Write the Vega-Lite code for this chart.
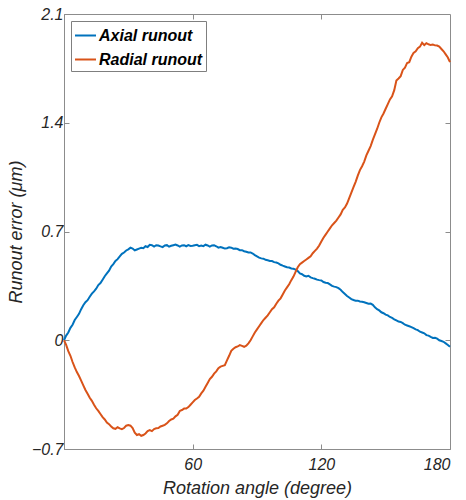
{
  "$schema": "https://vega.github.io/schema/vega-lite/v6.json",
  "width": 386,
  "height": 435,
  "autosize": "none",
  "padding": {"left": 64, "top": 14, "right": 16, "bottom": 51},
  "config": {
    "view": {"stroke": "#8c8c8c", "strokeWidth": 1},
    "font": "Liberation Sans",
    "axis": {
      "labelFont": "Liberation Sans",
      "titleFont": "Liberation Sans",
      "labelFontStyle": "italic",
      "titleFontStyle": "italic",
      "labelFontWeight": "normal",
      "titleFontWeight": "normal",
      "labelColor": "#262626",
      "titleColor": "#262626",
      "labelFontSize": 16,
      "titleFontSize": 18,
      "domainColor": "#8c8c8c",
      "tickColor": "#8c8c8c",
      "tickSize": -5,
      "grid": false
    }
  },
  "data": {
    "values": [
      {"angle": 0, "value": 0.0, "series": "Axial runout"},
      {"angle": 1, "value": 0.03, "series": "Axial runout"},
      {"angle": 2, "value": 0.05, "series": "Axial runout"},
      {"angle": 3, "value": 0.08, "series": "Axial runout"},
      {"angle": 4, "value": 0.1, "series": "Axial runout"},
      {"angle": 5, "value": 0.13, "series": "Axial runout"},
      {"angle": 6, "value": 0.15, "series": "Axial runout"},
      {"angle": 7, "value": 0.17, "series": "Axial runout"},
      {"angle": 8, "value": 0.2, "series": "Axial runout"},
      {"angle": 9, "value": 0.225, "series": "Axial runout"},
      {"angle": 10, "value": 0.245, "series": "Axial runout"},
      {"angle": 11, "value": 0.258, "series": "Axial runout"},
      {"angle": 12, "value": 0.28, "series": "Axial runout"},
      {"angle": 13, "value": 0.3, "series": "Axial runout"},
      {"angle": 14, "value": 0.315, "series": "Axial runout"},
      {"angle": 15, "value": 0.332, "series": "Axial runout"},
      {"angle": 16, "value": 0.355, "series": "Axial runout"},
      {"angle": 17, "value": 0.368, "series": "Axial runout"},
      {"angle": 18, "value": 0.39, "series": "Axial runout"},
      {"angle": 19, "value": 0.412, "series": "Axial runout"},
      {"angle": 20, "value": 0.43, "series": "Axial runout"},
      {"angle": 21, "value": 0.448, "series": "Axial runout"},
      {"angle": 22, "value": 0.475, "series": "Axial runout"},
      {"angle": 23, "value": 0.49, "series": "Axial runout"},
      {"angle": 24, "value": 0.51, "series": "Axial runout"},
      {"angle": 25, "value": 0.522, "series": "Axial runout"},
      {"angle": 26, "value": 0.54, "series": "Axial runout"},
      {"angle": 27, "value": 0.556, "series": "Axial runout"},
      {"angle": 28, "value": 0.565, "series": "Axial runout"},
      {"angle": 29, "value": 0.578, "series": "Axial runout"},
      {"angle": 30, "value": 0.585, "series": "Axial runout"},
      {"angle": 31, "value": 0.596, "series": "Axial runout"},
      {"angle": 32, "value": 0.59, "series": "Axial runout"},
      {"angle": 33, "value": 0.578, "series": "Axial runout"},
      {"angle": 34, "value": 0.584, "series": "Axial runout"},
      {"angle": 35, "value": 0.59, "series": "Axial runout"},
      {"angle": 36, "value": 0.595, "series": "Axial runout"},
      {"angle": 37, "value": 0.592, "series": "Axial runout"},
      {"angle": 38, "value": 0.605, "series": "Axial runout"},
      {"angle": 39, "value": 0.6, "series": "Axial runout"},
      {"angle": 40, "value": 0.614, "series": "Axial runout"},
      {"angle": 41, "value": 0.612, "series": "Axial runout"},
      {"angle": 42, "value": 0.603, "series": "Axial runout"},
      {"angle": 43, "value": 0.612, "series": "Axial runout"},
      {"angle": 44, "value": 0.61, "series": "Axial runout"},
      {"angle": 45, "value": 0.604, "series": "Axial runout"},
      {"angle": 46, "value": 0.6, "series": "Axial runout"},
      {"angle": 47, "value": 0.61, "series": "Axial runout"},
      {"angle": 48, "value": 0.612, "series": "Axial runout"},
      {"angle": 49, "value": 0.602, "series": "Axial runout"},
      {"angle": 50, "value": 0.608, "series": "Axial runout"},
      {"angle": 51, "value": 0.612, "series": "Axial runout"},
      {"angle": 52, "value": 0.616, "series": "Axial runout"},
      {"angle": 53, "value": 0.61, "series": "Axial runout"},
      {"angle": 54, "value": 0.603, "series": "Axial runout"},
      {"angle": 55, "value": 0.61, "series": "Axial runout"},
      {"angle": 56, "value": 0.612, "series": "Axial runout"},
      {"angle": 57, "value": 0.605, "series": "Axial runout"},
      {"angle": 58, "value": 0.612, "series": "Axial runout"},
      {"angle": 59, "value": 0.607, "series": "Axial runout"},
      {"angle": 60, "value": 0.608, "series": "Axial runout"},
      {"angle": 61, "value": 0.612, "series": "Axial runout"},
      {"angle": 62, "value": 0.614, "series": "Axial runout"},
      {"angle": 63, "value": 0.606, "series": "Axial runout"},
      {"angle": 64, "value": 0.61, "series": "Axial runout"},
      {"angle": 65, "value": 0.606, "series": "Axial runout"},
      {"angle": 66, "value": 0.615, "series": "Axial runout"},
      {"angle": 67, "value": 0.61, "series": "Axial runout"},
      {"angle": 68, "value": 0.603, "series": "Axial runout"},
      {"angle": 69, "value": 0.61, "series": "Axial runout"},
      {"angle": 70, "value": 0.612, "series": "Axial runout"},
      {"angle": 71, "value": 0.605, "series": "Axial runout"},
      {"angle": 72, "value": 0.596, "series": "Axial runout"},
      {"angle": 73, "value": 0.6, "series": "Axial runout"},
      {"angle": 74, "value": 0.595, "series": "Axial runout"},
      {"angle": 75, "value": 0.59, "series": "Axial runout"},
      {"angle": 76, "value": 0.592, "series": "Axial runout"},
      {"angle": 77, "value": 0.598, "series": "Axial runout"},
      {"angle": 78, "value": 0.596, "series": "Axial runout"},
      {"angle": 79, "value": 0.589, "series": "Axial runout"},
      {"angle": 80, "value": 0.59, "series": "Axial runout"},
      {"angle": 81, "value": 0.587, "series": "Axial runout"},
      {"angle": 82, "value": 0.58, "series": "Axial runout"},
      {"angle": 83, "value": 0.58, "series": "Axial runout"},
      {"angle": 84, "value": 0.573, "series": "Axial runout"},
      {"angle": 85, "value": 0.57, "series": "Axial runout"},
      {"angle": 86, "value": 0.565, "series": "Axial runout"},
      {"angle": 87, "value": 0.565, "series": "Axial runout"},
      {"angle": 88, "value": 0.558, "series": "Axial runout"},
      {"angle": 89, "value": 0.548, "series": "Axial runout"},
      {"angle": 90, "value": 0.54, "series": "Axial runout"},
      {"angle": 91, "value": 0.532, "series": "Axial runout"},
      {"angle": 92, "value": 0.527, "series": "Axial runout"},
      {"angle": 93, "value": 0.525, "series": "Axial runout"},
      {"angle": 94, "value": 0.518, "series": "Axial runout"},
      {"angle": 95, "value": 0.515, "series": "Axial runout"},
      {"angle": 96, "value": 0.51, "series": "Axial runout"},
      {"angle": 97, "value": 0.51, "series": "Axial runout"},
      {"angle": 98, "value": 0.503, "series": "Axial runout"},
      {"angle": 99, "value": 0.5, "series": "Axial runout"},
      {"angle": 100, "value": 0.495, "series": "Axial runout"},
      {"angle": 101, "value": 0.486, "series": "Axial runout"},
      {"angle": 102, "value": 0.48, "series": "Axial runout"},
      {"angle": 103, "value": 0.475, "series": "Axial runout"},
      {"angle": 104, "value": 0.47, "series": "Axial runout"},
      {"angle": 105, "value": 0.468, "series": "Axial runout"},
      {"angle": 106, "value": 0.462, "series": "Axial runout"},
      {"angle": 107, "value": 0.46, "series": "Axial runout"},
      {"angle": 108, "value": 0.455, "series": "Axial runout"},
      {"angle": 109, "value": 0.445, "series": "Axial runout"},
      {"angle": 110, "value": 0.43, "series": "Axial runout"},
      {"angle": 111, "value": 0.425, "series": "Axial runout"},
      {"angle": 112, "value": 0.415, "series": "Axial runout"},
      {"angle": 113, "value": 0.41, "series": "Axial runout"},
      {"angle": 114, "value": 0.415, "series": "Axial runout"},
      {"angle": 115, "value": 0.405, "series": "Axial runout"},
      {"angle": 116, "value": 0.4, "series": "Axial runout"},
      {"angle": 117, "value": 0.396, "series": "Axial runout"},
      {"angle": 118, "value": 0.39, "series": "Axial runout"},
      {"angle": 119, "value": 0.387, "series": "Axial runout"},
      {"angle": 120, "value": 0.385, "series": "Axial runout"},
      {"angle": 121, "value": 0.375, "series": "Axial runout"},
      {"angle": 122, "value": 0.37, "series": "Axial runout"},
      {"angle": 123, "value": 0.368, "series": "Axial runout"},
      {"angle": 124, "value": 0.36, "series": "Axial runout"},
      {"angle": 125, "value": 0.35, "series": "Axial runout"},
      {"angle": 126, "value": 0.345, "series": "Axial runout"},
      {"angle": 127, "value": 0.342, "series": "Axial runout"},
      {"angle": 128, "value": 0.335, "series": "Axial runout"},
      {"angle": 129, "value": 0.325, "series": "Axial runout"},
      {"angle": 130, "value": 0.31, "series": "Axial runout"},
      {"angle": 131, "value": 0.298, "series": "Axial runout"},
      {"angle": 132, "value": 0.285, "series": "Axial runout"},
      {"angle": 133, "value": 0.275, "series": "Axial runout"},
      {"angle": 134, "value": 0.265, "series": "Axial runout"},
      {"angle": 135, "value": 0.259, "series": "Axial runout"},
      {"angle": 136, "value": 0.255, "series": "Axial runout"},
      {"angle": 137, "value": 0.255, "series": "Axial runout"},
      {"angle": 138, "value": 0.25, "series": "Axial runout"},
      {"angle": 139, "value": 0.248, "series": "Axial runout"},
      {"angle": 140, "value": 0.245, "series": "Axial runout"},
      {"angle": 141, "value": 0.24, "series": "Axial runout"},
      {"angle": 142, "value": 0.235, "series": "Axial runout"},
      {"angle": 143, "value": 0.236, "series": "Axial runout"},
      {"angle": 144, "value": 0.228, "series": "Axial runout"},
      {"angle": 145, "value": 0.212, "series": "Axial runout"},
      {"angle": 146, "value": 0.2, "series": "Axial runout"},
      {"angle": 147, "value": 0.192, "series": "Axial runout"},
      {"angle": 148, "value": 0.18, "series": "Axial runout"},
      {"angle": 149, "value": 0.174, "series": "Axial runout"},
      {"angle": 150, "value": 0.165, "series": "Axial runout"},
      {"angle": 151, "value": 0.16, "series": "Axial runout"},
      {"angle": 152, "value": 0.15, "series": "Axial runout"},
      {"angle": 153, "value": 0.144, "series": "Axial runout"},
      {"angle": 154, "value": 0.135, "series": "Axial runout"},
      {"angle": 155, "value": 0.128, "series": "Axial runout"},
      {"angle": 156, "value": 0.12, "series": "Axial runout"},
      {"angle": 157, "value": 0.118, "series": "Axial runout"},
      {"angle": 158, "value": 0.11, "series": "Axial runout"},
      {"angle": 159, "value": 0.1, "series": "Axial runout"},
      {"angle": 160, "value": 0.095, "series": "Axial runout"},
      {"angle": 161, "value": 0.09, "series": "Axial runout"},
      {"angle": 162, "value": 0.085, "series": "Axial runout"},
      {"angle": 163, "value": 0.078, "series": "Axial runout"},
      {"angle": 164, "value": 0.07, "series": "Axial runout"},
      {"angle": 165, "value": 0.065, "series": "Axial runout"},
      {"angle": 166, "value": 0.055, "series": "Axial runout"},
      {"angle": 167, "value": 0.05, "series": "Axial runout"},
      {"angle": 168, "value": 0.045, "series": "Axial runout"},
      {"angle": 169, "value": 0.033, "series": "Axial runout"},
      {"angle": 170, "value": 0.03, "series": "Axial runout"},
      {"angle": 171, "value": 0.022, "series": "Axial runout"},
      {"angle": 172, "value": 0.015, "series": "Axial runout"},
      {"angle": 173, "value": 0.016, "series": "Axial runout"},
      {"angle": 174, "value": 0.01, "series": "Axial runout"},
      {"angle": 175, "value": 0.0, "series": "Axial runout"},
      {"angle": 176, "value": -0.005, "series": "Axial runout"},
      {"angle": 177, "value": -0.01, "series": "Axial runout"},
      {"angle": 178, "value": -0.02, "series": "Axial runout"},
      {"angle": 179, "value": -0.03, "series": "Axial runout"},
      {"angle": 180, "value": -0.042, "series": "Axial runout"},
      {"angle": 0, "value": 0.0, "series": "Radial runout"},
      {"angle": 1, "value": -0.03, "series": "Radial runout"},
      {"angle": 2, "value": -0.07, "series": "Radial runout"},
      {"angle": 3, "value": -0.1, "series": "Radial runout"},
      {"angle": 4, "value": -0.14, "series": "Radial runout"},
      {"angle": 5, "value": -0.175, "series": "Radial runout"},
      {"angle": 6, "value": -0.205, "series": "Radial runout"},
      {"angle": 7, "value": -0.23, "series": "Radial runout"},
      {"angle": 8, "value": -0.26, "series": "Radial runout"},
      {"angle": 9, "value": -0.29, "series": "Radial runout"},
      {"angle": 10, "value": -0.32, "series": "Radial runout"},
      {"angle": 11, "value": -0.345, "series": "Radial runout"},
      {"angle": 12, "value": -0.37, "series": "Radial runout"},
      {"angle": 13, "value": -0.39, "series": "Radial runout"},
      {"angle": 14, "value": -0.415, "series": "Radial runout"},
      {"angle": 15, "value": -0.438, "series": "Radial runout"},
      {"angle": 16, "value": -0.455, "series": "Radial runout"},
      {"angle": 17, "value": -0.475, "series": "Radial runout"},
      {"angle": 18, "value": -0.495, "series": "Radial runout"},
      {"angle": 19, "value": -0.51, "series": "Radial runout"},
      {"angle": 20, "value": -0.53, "series": "Radial runout"},
      {"angle": 21, "value": -0.54, "series": "Radial runout"},
      {"angle": 22, "value": -0.555, "series": "Radial runout"},
      {"angle": 23, "value": -0.567, "series": "Radial runout"},
      {"angle": 24, "value": -0.57, "series": "Radial runout"},
      {"angle": 25, "value": -0.56, "series": "Radial runout"},
      {"angle": 26, "value": -0.567, "series": "Radial runout"},
      {"angle": 27, "value": -0.572, "series": "Radial runout"},
      {"angle": 28, "value": -0.565, "series": "Radial runout"},
      {"angle": 29, "value": -0.55, "series": "Radial runout"},
      {"angle": 30, "value": -0.546, "series": "Radial runout"},
      {"angle": 31, "value": -0.55, "series": "Radial runout"},
      {"angle": 32, "value": -0.565, "series": "Radial runout"},
      {"angle": 33, "value": -0.595, "series": "Radial runout"},
      {"angle": 34, "value": -0.61, "series": "Radial runout"},
      {"angle": 35, "value": -0.605, "series": "Radial runout"},
      {"angle": 36, "value": -0.615, "series": "Radial runout"},
      {"angle": 37, "value": -0.61, "series": "Radial runout"},
      {"angle": 38, "value": -0.6, "series": "Radial runout"},
      {"angle": 39, "value": -0.585, "series": "Radial runout"},
      {"angle": 40, "value": -0.578, "series": "Radial runout"},
      {"angle": 41, "value": -0.585, "series": "Radial runout"},
      {"angle": 42, "value": -0.572, "series": "Radial runout"},
      {"angle": 43, "value": -0.567, "series": "Radial runout"},
      {"angle": 44, "value": -0.565, "series": "Radial runout"},
      {"angle": 45, "value": -0.555, "series": "Radial runout"},
      {"angle": 46, "value": -0.55, "series": "Radial runout"},
      {"angle": 47, "value": -0.545, "series": "Radial runout"},
      {"angle": 48, "value": -0.535, "series": "Radial runout"},
      {"angle": 49, "value": -0.52, "series": "Radial runout"},
      {"angle": 50, "value": -0.51, "series": "Radial runout"},
      {"angle": 51, "value": -0.505, "series": "Radial runout"},
      {"angle": 52, "value": -0.49, "series": "Radial runout"},
      {"angle": 53, "value": -0.48, "series": "Radial runout"},
      {"angle": 54, "value": -0.455, "series": "Radial runout"},
      {"angle": 55, "value": -0.449, "series": "Radial runout"},
      {"angle": 56, "value": -0.44, "series": "Radial runout"},
      {"angle": 57, "value": -0.44, "series": "Radial runout"},
      {"angle": 58, "value": -0.43, "series": "Radial runout"},
      {"angle": 59, "value": -0.415, "series": "Radial runout"},
      {"angle": 60, "value": -0.4, "series": "Radial runout"},
      {"angle": 61, "value": -0.385, "series": "Radial runout"},
      {"angle": 62, "value": -0.375, "series": "Radial runout"},
      {"angle": 63, "value": -0.364, "series": "Radial runout"},
      {"angle": 64, "value": -0.342, "series": "Radial runout"},
      {"angle": 65, "value": -0.325, "series": "Radial runout"},
      {"angle": 66, "value": -0.3, "series": "Radial runout"},
      {"angle": 67, "value": -0.275, "series": "Radial runout"},
      {"angle": 68, "value": -0.25, "series": "Radial runout"},
      {"angle": 69, "value": -0.235, "series": "Radial runout"},
      {"angle": 70, "value": -0.215, "series": "Radial runout"},
      {"angle": 71, "value": -0.2, "series": "Radial runout"},
      {"angle": 72, "value": -0.18, "series": "Radial runout"},
      {"angle": 73, "value": -0.17, "series": "Radial runout"},
      {"angle": 74, "value": -0.165, "series": "Radial runout"},
      {"angle": 75, "value": -0.16, "series": "Radial runout"},
      {"angle": 76, "value": -0.13, "series": "Radial runout"},
      {"angle": 77, "value": -0.1, "series": "Radial runout"},
      {"angle": 78, "value": -0.068, "series": "Radial runout"},
      {"angle": 79, "value": -0.055, "series": "Radial runout"},
      {"angle": 80, "value": -0.045, "series": "Radial runout"},
      {"angle": 81, "value": -0.04, "series": "Radial runout"},
      {"angle": 82, "value": -0.031, "series": "Radial runout"},
      {"angle": 83, "value": -0.036, "series": "Radial runout"},
      {"angle": 84, "value": -0.042, "series": "Radial runout"},
      {"angle": 85, "value": -0.035, "series": "Radial runout"},
      {"angle": 86, "value": -0.02, "series": "Radial runout"},
      {"angle": 87, "value": 0.0, "series": "Radial runout"},
      {"angle": 88, "value": 0.025, "series": "Radial runout"},
      {"angle": 89, "value": 0.05, "series": "Radial runout"},
      {"angle": 90, "value": 0.07, "series": "Radial runout"},
      {"angle": 91, "value": 0.09, "series": "Radial runout"},
      {"angle": 92, "value": 0.11, "series": "Radial runout"},
      {"angle": 93, "value": 0.13, "series": "Radial runout"},
      {"angle": 94, "value": 0.145, "series": "Radial runout"},
      {"angle": 95, "value": 0.16, "series": "Radial runout"},
      {"angle": 96, "value": 0.18, "series": "Radial runout"},
      {"angle": 97, "value": 0.2, "series": "Radial runout"},
      {"angle": 98, "value": 0.212, "series": "Radial runout"},
      {"angle": 99, "value": 0.235, "series": "Radial runout"},
      {"angle": 100, "value": 0.255, "series": "Radial runout"},
      {"angle": 101, "value": 0.27, "series": "Radial runout"},
      {"angle": 102, "value": 0.295, "series": "Radial runout"},
      {"angle": 103, "value": 0.32, "series": "Radial runout"},
      {"angle": 104, "value": 0.34, "series": "Radial runout"},
      {"angle": 105, "value": 0.36, "series": "Radial runout"},
      {"angle": 106, "value": 0.387, "series": "Radial runout"},
      {"angle": 107, "value": 0.41, "series": "Radial runout"},
      {"angle": 108, "value": 0.44, "series": "Radial runout"},
      {"angle": 109, "value": 0.47, "series": "Radial runout"},
      {"angle": 110, "value": 0.49, "series": "Radial runout"},
      {"angle": 111, "value": 0.5, "series": "Radial runout"},
      {"angle": 112, "value": 0.51, "series": "Radial runout"},
      {"angle": 113, "value": 0.52, "series": "Radial runout"},
      {"angle": 114, "value": 0.53, "series": "Radial runout"},
      {"angle": 115, "value": 0.54, "series": "Radial runout"},
      {"angle": 116, "value": 0.56, "series": "Radial runout"},
      {"angle": 117, "value": 0.575, "series": "Radial runout"},
      {"angle": 118, "value": 0.59, "series": "Radial runout"},
      {"angle": 119, "value": 0.61, "series": "Radial runout"},
      {"angle": 120, "value": 0.635, "series": "Radial runout"},
      {"angle": 121, "value": 0.66, "series": "Radial runout"},
      {"angle": 122, "value": 0.68, "series": "Radial runout"},
      {"angle": 123, "value": 0.7, "series": "Radial runout"},
      {"angle": 124, "value": 0.72, "series": "Radial runout"},
      {"angle": 125, "value": 0.74, "series": "Radial runout"},
      {"angle": 126, "value": 0.755, "series": "Radial runout"},
      {"angle": 127, "value": 0.77, "series": "Radial runout"},
      {"angle": 128, "value": 0.79, "series": "Radial runout"},
      {"angle": 129, "value": 0.81, "series": "Radial runout"},
      {"angle": 130, "value": 0.84, "series": "Radial runout"},
      {"angle": 131, "value": 0.855, "series": "Radial runout"},
      {"angle": 132, "value": 0.88, "series": "Radial runout"},
      {"angle": 133, "value": 0.915, "series": "Radial runout"},
      {"angle": 134, "value": 0.95, "series": "Radial runout"},
      {"angle": 135, "value": 0.985, "series": "Radial runout"},
      {"angle": 136, "value": 1.02, "series": "Radial runout"},
      {"angle": 137, "value": 1.06, "series": "Radial runout"},
      {"angle": 138, "value": 1.095, "series": "Radial runout"},
      {"angle": 139, "value": 1.12, "series": "Radial runout"},
      {"angle": 140, "value": 1.15, "series": "Radial runout"},
      {"angle": 141, "value": 1.19, "series": "Radial runout"},
      {"angle": 142, "value": 1.22, "series": "Radial runout"},
      {"angle": 143, "value": 1.25, "series": "Radial runout"},
      {"angle": 144, "value": 1.29, "series": "Radial runout"},
      {"angle": 145, "value": 1.325, "series": "Radial runout"},
      {"angle": 146, "value": 1.36, "series": "Radial runout"},
      {"angle": 147, "value": 1.4, "series": "Radial runout"},
      {"angle": 148, "value": 1.435, "series": "Radial runout"},
      {"angle": 149, "value": 1.46, "series": "Radial runout"},
      {"angle": 150, "value": 1.49, "series": "Radial runout"},
      {"angle": 151, "value": 1.52, "series": "Radial runout"},
      {"angle": 152, "value": 1.55, "series": "Radial runout"},
      {"angle": 153, "value": 1.57, "series": "Radial runout"},
      {"angle": 154, "value": 1.61, "series": "Radial runout"},
      {"angle": 155, "value": 1.672, "series": "Radial runout"},
      {"angle": 156, "value": 1.685, "series": "Radial runout"},
      {"angle": 157, "value": 1.7, "series": "Radial runout"},
      {"angle": 158, "value": 1.74, "series": "Radial runout"},
      {"angle": 159, "value": 1.755, "series": "Radial runout"},
      {"angle": 160, "value": 1.785, "series": "Radial runout"},
      {"angle": 161, "value": 1.79, "series": "Radial runout"},
      {"angle": 162, "value": 1.825, "series": "Radial runout"},
      {"angle": 163, "value": 1.85, "series": "Radial runout"},
      {"angle": 164, "value": 1.86, "series": "Radial runout"},
      {"angle": 165, "value": 1.88, "series": "Radial runout"},
      {"angle": 166, "value": 1.89, "series": "Radial runout"},
      {"angle": 167, "value": 1.915, "series": "Radial runout"},
      {"angle": 168, "value": 1.9, "series": "Radial runout"},
      {"angle": 169, "value": 1.912, "series": "Radial runout"},
      {"angle": 170, "value": 1.905, "series": "Radial runout"},
      {"angle": 171, "value": 1.9, "series": "Radial runout"},
      {"angle": 172, "value": 1.903, "series": "Radial runout"},
      {"angle": 173, "value": 1.898, "series": "Radial runout"},
      {"angle": 174, "value": 1.897, "series": "Radial runout"},
      {"angle": 175, "value": 1.89, "series": "Radial runout"},
      {"angle": 176, "value": 1.875, "series": "Radial runout"},
      {"angle": 177, "value": 1.86, "series": "Radial runout"},
      {"angle": 178, "value": 1.84, "series": "Radial runout"},
      {"angle": 179, "value": 1.82, "series": "Radial runout"},
      {"angle": 180, "value": 1.79, "series": "Radial runout"}
    ]
  },
  "layer": [
    {
      "mark": {"type": "line", "strokeWidth": 2},
      "encoding": {
        "x": {
          "field": "angle", "type": "quantitative",
          "scale": {"domain": [0, 180], "nice": false, "zero": false},
          "axis": {"orient": "bottom", "values": [60, 120, 180], "title": "Rotation angle (degree)", "labelPadding": 12, "titlePadding": 7}
        },
        "y": {
          "field": "value", "type": "quantitative",
          "scale": {"domain": [-0.7, 2.1], "nice": false, "zero": false},
          "axis": {"orient": "left", "values": [-0.7, 0, 0.7, 1.4, 2.1], "labelExpr": "datum.value == 0 ? '0' : format(datum.value, '.1f')", "title": "Runout error (μm)", "labelPadding": 6, "titlePadding": 6}
        },
        "color": {
          "field": "series", "type": "nominal",
          "scale": {"domain": ["Axial runout", "Radial runout"], "range": ["#0072BD", "#D95319"]},
          "legend": {
            "title": null,
            "orient": "none",
            "legendX": 7,
            "legendY": 7,
            "symbolType": "stroke",
            "symbolSize": 441,
            "symbolStrokeWidth": 2,
            "labelFont": "Liberation Sans",
            "labelFontSize": 16,
            "labelFontStyle": "italic",
            "labelFontWeight": "bold",
            "labelColor": "#000000",
            "labelOffset": 2,
            "rowPadding": 4,
            "padding": 3,
            "strokeColor": "#7f7f7f",
            "fillColor": "#ffffff"
          }
        }
      }
    },
    {
      "mark": {"type": "line", "opacity": 0},
      "encoding": {
        "x": {
          "field": "angle", "type": "quantitative",
          "axis": {"orient": "top", "values": [60, 120], "labels": false, "title": null, "domain": false}
        },
        "y": {
          "field": "value", "type": "quantitative",
          "axis": {"orient": "right", "values": [0, 0.7, 1.4], "labels": false, "title": null, "domain": false}
        },
        "detail": {"field": "series"}
      }
    }
  ],
  "resolve": {"axis": {"x": "independent", "y": "independent"}}
}
